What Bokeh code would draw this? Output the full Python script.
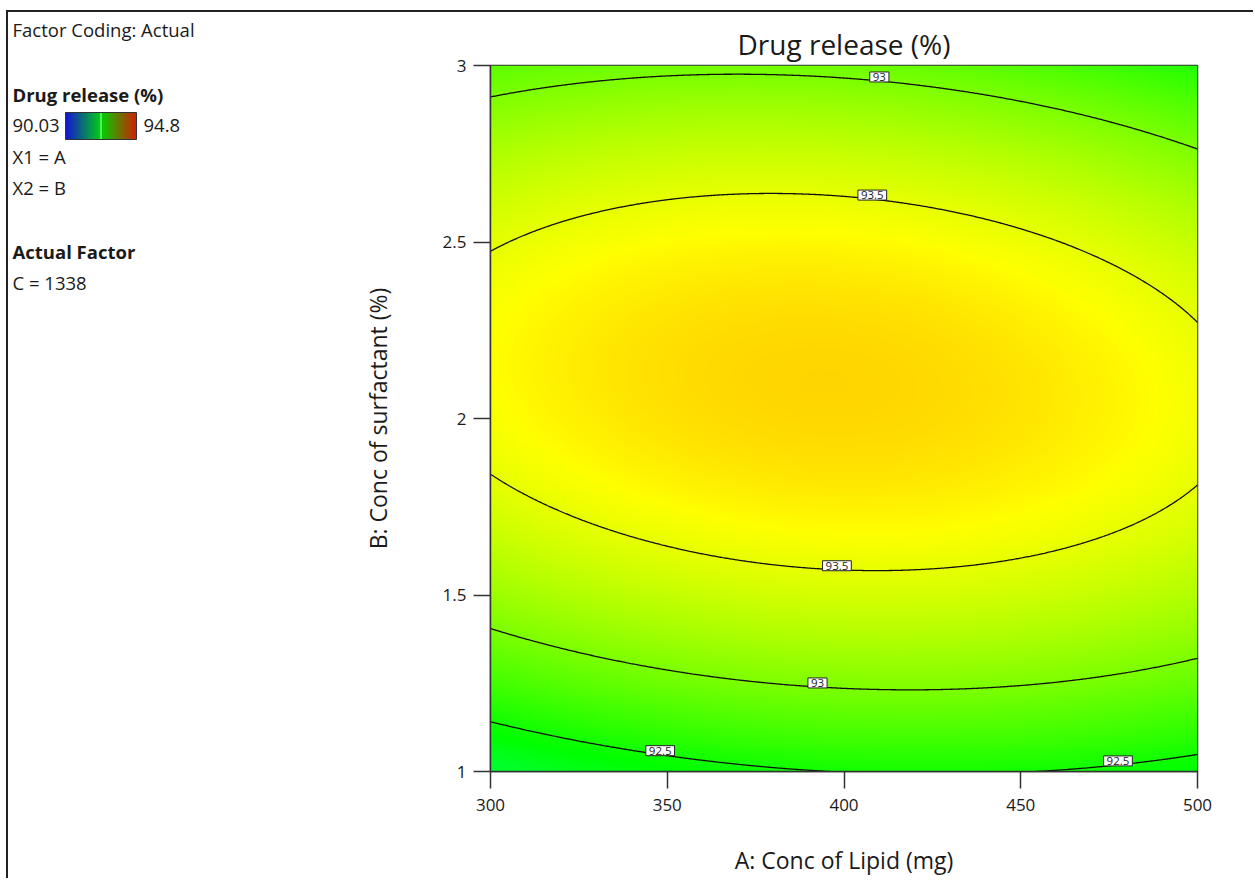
import numpy as np
from bokeh.plotting import figure
from bokeh.layouts import row
from bokeh.models import Range1d, CustomJSTickFormatter, FixedTicker
from bokeh.core.properties import value
from bokeh.embed import file_html
from bokeh.resources import INLINE

# ---------------- data ----------------
a_range = [300, 500]          # A: Conc of Lipid (mg)
b_range = [1, 3]              # B: Conc of surfactant (%)
a_center, a_half = 400.0, 100.0
b_center, b_half = 2.0, 1.0
# quadratic response-surface coefficients (coded units)
coef_terms = ["const", "a", "b", "ab", "a2", "b2"]
coef_values = [93.789, -0.0126, 0.214, -0.124, -0.2216, -1.07]
levels = [92.5, 93.0, 93.5]
color_min, color_max = 90.03, 94.8
label_level = [93.0, 93.5, 93.5, 93.0, 92.5, 92.5]
label_branch = ["upper", "upper", "lower", "lower", "lower", "lower"]
label_a = [410, 408, 398, 392.5, 348, 477.5]
label_text = ["93", "93.5", "93.5", "93", "92.5", "92.5"]
x_ticks = [300, 350, 400, 450, 500]
y_ticks = [1, 1.5, 2, 2.5, 3]
panel_title = "Factor Coding: Actual"
panel_text = ["Drug release (%)", "90.03", "94.8", "X1 = A", "X2 = B", "Actual Factor", "C = 1338"]
panel_bold = [True, False, False, False, False, True, False]

FONT = "Open Sans"
C = dict(zip(coef_terms, coef_values))


def model(A, B):
    a = (np.asarray(A) - a_center) / a_half
    b = (np.asarray(B) - b_center) / b_half
    return (C["const"] + C["a"] * a + C["b"] * b + C["ab"] * a * b
            + C["a2"] * a * a + C["b2"] * b * b)


def solve_b(A, level):
    a = (np.asarray(A, dtype=float) - a_center) / a_half
    p = C["b2"]
    q = C["b"] + C["ab"] * a
    r = C["const"] + C["a"] * a + C["a2"] * a * a - level
    D = q * q - 4 * p * r
    s = np.sqrt(np.where(D >= 0, D, np.nan))
    r1 = (-q + s) / (2 * p)
    r2 = (-q - s) / (2 * p)
    upper = b_center + b_half * np.maximum(r1, r2)
    lower = b_center + b_half * np.minimum(r1, r2)
    return upper, lower


def hsv_colors(v):
    v = np.asarray(v, dtype=float)
    mid = (color_min + color_max) / 2
    hue = np.where(v >= mid,
                   120 * (color_max - v) / (color_max - mid),
                   120 + 120 * (mid - v) / (mid - color_min))
    hue = np.clip(hue, 0, 240)
    h6 = hue / 60.0
    i = np.floor(h6).astype(int) % 6
    f = h6 - np.floor(h6)
    one = np.ones_like(f)
    zero = np.zeros_like(f)
    conds = [i == 0, i == 1, i == 2, i == 3, i == 4, i == 5]
    r = np.select(conds, [one, 1 - f, zero, zero, f, one])
    g = np.select(conds, [f, one, one, 1 - f, zero, zero])
    b = np.select(conds, [zero, zero, f, one, one, 1 - f])
    return r, g, b


def to_rgba(r, g, b):
    ny, nx = r.shape
    img = np.empty((ny, nx), dtype=np.uint32)
    view = img.view(dtype=np.uint8).reshape((ny, nx, 4))
    view[:, :, 0] = np.clip(r * 255, 0, 255).astype(np.uint8)
    view[:, :, 1] = np.clip(g * 255, 0, 255).astype(np.uint8)
    view[:, :, 2] = np.clip(b * 255, 0, 255).astype(np.uint8)
    view[:, :, 3] = 255
    return img


# layout constants (page pixels)
MB_TOP, MB_BOTTOM = 53, 105
FRAME_W, FRAME_H = 707, 706
W_LEFT = 300
H = MB_TOP + FRAME_H + MB_BOTTOM

# ---------------- main contour plot ----------------
p = figure(width=182 + FRAME_W + 56, height=H, frame_width=FRAME_W, frame_height=FRAME_H,
           x_range=Range1d(*a_range), y_range=Range1d(*b_range),
           output_backend="svg", toolbar_location=None,
           min_border_left=182, min_border_right=56, min_border_top=MB_TOP,
           min_border_bottom=MB_BOTTOM)

nx, ny = 360, 360
AA, BB = np.meshgrid(np.linspace(a_range[0], a_range[1], nx), np.linspace(b_range[0], b_range[1], ny))
Z = model(AA, BB)
rr, gg, bb = hsv_colors(Z)
p.image_rgba(image=[to_rgba(rr, gg, bb)], x=a_range[0], y=b_range[0],
             dw=a_range[1] - a_range[0], dh=b_range[1] - b_range[0])

A_line = np.linspace(a_range[0], a_range[1], 600)
for lev in levels:
    up, lo = solve_b(A_line, lev)
    for br in (up, lo):
        p.line(A_line, br, line_color="#111111", line_width=1.3)

lx, ly = [], []
for lev, brn, av in zip(label_level, label_branch, label_a):
    up, lo = solve_b(np.array([av]), lev)
    lx.append(av)
    ly.append(float(up[0] if brn == "upper" else lo[0]))
p.text(x=lx, y=ly, text=label_text, text_font=value(FONT), text_font_size="11.5px",
       text_color="#222222", text_align="center", text_baseline="middle", y_offset=-4,
       background_fill_color="white", border_line_color="#222222", border_line_width=1,
       padding=dict(left=3, right=3, top=1, bottom=1))

p.title.text = "Drug release (%)"
p.title.align = "center"
p.title.text_font = FONT
p.title.text_font_size = "28px"
p.title.text_font_style = "normal"
p.title.text_color = "#1a1a1a"
p.title.standoff = 6

p.xaxis.axis_label = "A: Conc of Lipid (mg)"
p.yaxis.axis_label = "B: Conc of surfactant (%)"
p.xaxis.ticker = FixedTicker(ticks=x_ticks)
p.yaxis.ticker = FixedTicker(ticks=y_ticks)
fmt = CustomJSTickFormatter(code="return tick.toString();")
p.xaxis.formatter = fmt
p.yaxis.formatter = fmt
for ax in (p.xaxis, p.yaxis):
    ax.axis_label_text_font = FONT
    ax.axis_label_text_font_size = "23px"
    ax.axis_label_text_font_style = "normal"
    ax.axis_label_text_color = "#1a1a1a"
    ax.major_label_text_font = FONT
    ax.major_label_text_font_size = "17px"
    ax.major_label_text_color = "#1a1a1a"
    ax.major_tick_in = 0
    ax.major_tick_out = 17
    ax.minor_tick_line_color = None
    ax.major_tick_line_color = "#333333"
    ax.major_tick_line_width = 1.5
    ax.axis_line_color = "#333333"
    ax.axis_line_width = 1.5
p.xaxis.axis_label_standoff = 30
p.yaxis.axis_label_standoff = 46
p.xaxis.major_label_standoff = 10
p.yaxis.major_label_standoff = 7
p.xgrid.grid_line_color = None
p.ygrid.grid_line_color = None
p.outline_line_color = "#333333"
p.outline_line_width = 1.5
p.background_fill_color = "white"

# ---------------- left annotation panel (data coords = page pixels) ----------------
X0 = 8
left = figure(width=W_LEFT, height=H, frame_width=W_LEFT, frame_height=FRAME_H,
              x_range=Range1d(X0, X0 + W_LEFT), y_range=Range1d(65 + FRAME_H, 65),
              output_backend="svg", toolbar_location=None,
              min_border_left=0, min_border_right=0, min_border_top=MB_TOP,
              min_border_bottom=MB_BOTTOM)
left.axis.visible = False
left.grid.visible = False
left.outline_line_color = None
left.title.text = panel_title + "\n"
left.title.align = "left"
left.title.offset = 4
left.title.vertical_align = "top"
left.title.standoff = 7
left.title.text_line_height = 0.7
left.title.text_font = FONT
left.title.text_font_size = "18.5px"
left.title.text_font_style = "normal"
left.title.text_color = "#1a1a1a"

tx = [12, 12, 143, 12, 12, 12, 12]
ty = [94, 125, 125, 156, 187, 251, 282]
for bold in (False, True):
    idx = [i for i in range(len(panel_text)) if panel_bold[i] == bold]
    left.text(x=[tx[i] for i in idx], y=[ty[i] for i in idx], text=[panel_text[i] for i in idx],
              text_font=value(FONT), text_font_size="18.5px",
              text_font_style="bold" if bold else "normal",
              text_color="#1a1a1a", text_baseline="middle")

# legend gradient
vals = np.linspace(color_min, color_max, 120)
t = (vals - color_min) / (color_max - color_min)
lr = np.where(t < 0.5, 0.08 * (1 - 2 * t), 0.82 * (2 * t - 1))
lg = np.where(t < 0.5, 0.08 + 0.74 * (2 * t), 0.82 - 0.70 * (2 * t - 1))
lb = np.where(t < 0.5, 0.82 - 0.74 * (2 * t), 0.0)
grad = to_rgba(np.tile(lr, (2, 1)), np.tile(lg, (2, 1)), np.tile(lb, (2, 1)))
left.image_rgba(image=[grad], x=65, y=112, dw=71, dh=27)
left.quad(left=[65], right=[136], top=[112], bottom=[139], fill_color=None,
          line_color="#333333", line_width=1)
left.segment(x0=[100.5], x1=[100.5], y0=[112.5], y1=[138.5], line_color="#66ff66", line_width=1.5)

layout = row(left, p, styles={"border-top": "2px solid #222", "border-left": "2px solid #222",
                              "margin-top": "10px", "margin-left": "6px"})

open("out.html", "w").write(file_html(layout, INLINE))
